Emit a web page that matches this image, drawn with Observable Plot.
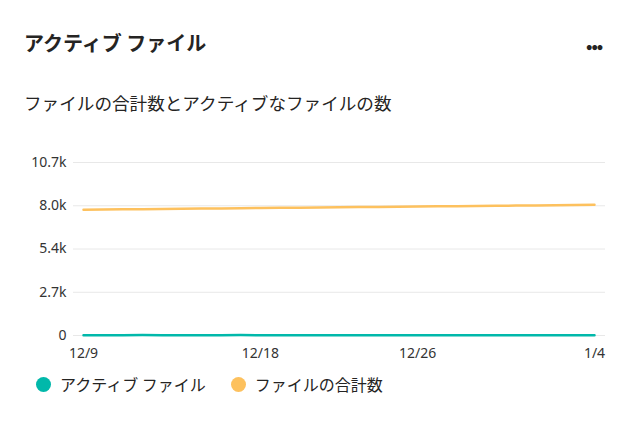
<!DOCTYPE html>
<html>
<head>
<meta charset="utf-8">
<script src="https://cdn.jsdelivr.net/npm/d3@7"></script>
<script src="https://cdn.jsdelivr.net/npm/@observablehq/plot@0.6"></script>
<style>
  html, body { margin: 0; padding: 0; background: #fff; }
  body { width: 643px; height: 436px; position: relative; overflow: hidden;
         font-family: "Noto Sans CJK JP", "Noto Sans", sans-serif; color: #252423; }
  #title { position: absolute; left: 24px; top: 29px; font-size: 20px; font-weight: 700; line-height: 28px; white-space: nowrap; }
  #more { position: absolute; left: 586px; top: 32px; font-size: 17px; font-weight: 700; line-height: 28px; letter-spacing: -1px; }
  #subtitle { position: absolute; left: 24px; top: 89px; font-size: 17.6px; line-height: 28px; white-space: nowrap; color: #252423; }
  #chart { position: absolute; left: 0; top: 145px; }
  #legend { position: absolute; left: 36px; top: 371px; display: flex; align-items: center; font-size: 16px; line-height: 26px; white-space: nowrap; }
  .item { display: flex; align-items: center; margin-right: 25px; }
  .dot { width: 15px; height: 15px; border-radius: 50%; margin-right: 9px; }
</style>
</head>
<body>
<div id="title">アクティブ ファイル</div>
<div id="more">•••</div>
<div id="subtitle">ファイルの合計数とアクティブなファイルの数</div>
<div id="chart"></div>
<div id="legend"></div>
<script>
const dates = ["2019-12-09","2019-12-10","2019-12-11","2019-12-12","2019-12-13","2019-12-14","2019-12-15",
  "2019-12-16","2019-12-17","2019-12-18","2019-12-19","2019-12-20","2019-12-21","2019-12-22",
  "2019-12-23","2019-12-24","2019-12-25","2019-12-26","2019-12-27","2019-12-28","2019-12-29",
  "2019-12-30","2019-12-31","2020-01-01","2020-01-02","2020-01-03","2020-01-04"];
const totalFiles = [7780,7791,7804,7814,7827,7837,7850,7860,7873,7883,7896,7906,7919,7929,
  7942,7952,7965,7975,7988,7998,8011,8021,8034,8044,8057,8067,8085];
const activeFiles = [22,23,22,24,23,21,21,23,24,22,23,22,20,20,22,21,19,21,22,20,19,21,21,19,22,23,23];
const seriesNames = ["アクティブ ファイル", "ファイルの合計数"];
const seriesColors = ["#01B8AA", "#FDC15E"];
const yTicks = [0, 2675, 5350, 8025, 10700];
const yTickLabels = ["0", "2.7k", "5.4k", "8.0k", "10.7k"];
const xTickDates = ["2019-12-09", "2019-12-18", "2019-12-26", "2020-01-04"];
const xTickLabels = ["12/9", "12/18", "12/26", "1/4"];

const parse = d3.utcParse("%Y-%m-%d");
const rows = [];
dates.forEach((d, i) => {
  rows.push({date: parse(d), value: activeFiles[i], series: seriesNames[0]});
  rows.push({date: parse(d), value: totalFiles[i], series: seriesNames[1]});
});
const xTicks = xTickDates.map(parse);
const xLabelMap = new Map(xTicks.map((t, i) => [+t, xTickLabels[i]]));
const yLabelMap = new Map(yTicks.map((t, i) => [t, yTickLabels[i]]));

const chart = Plot.plot({
  width: 643,
  height: 220,
  marginLeft: 73,
  marginRight: 38,
  marginTop: 17,
  marginBottom: 30,
  style: {fontFamily: "'Noto Sans', sans-serif", fontSize: "14px", color: "#333"},
  x: {type: "utc", domain: [parse(dates[0]), parse(dates[dates.length - 1])], insetLeft: 10, insetRight: 11, label: null},
  y: {domain: [0, 10700], label: null},
  color: {domain: seriesNames, range: seriesColors},
  marks: [
    Plot.gridY(yTicks, {stroke: "#e8e8e8", strokeOpacity: 1, strokeWidth: 1}),
    Plot.axisX({ticks: xTicks, tickFormat: d => xLabelMap.get(+d), tickSize: 0, tickPadding: 13, fill: "#333", fontSize: 14}),
    Plot.axisY({ticks: yTicks, tickFormat: d => yLabelMap.get(d), tickSize: 0, tickPadding: 7, fill: "#333", fontSize: 14}),
    Plot.line(rows, {x: "date", y: "value", z: "series", stroke: "series", strokeWidth: 2.5, curve: "linear"})
  ]
});
document.getElementById("chart").appendChild(chart);

const legend = document.getElementById("legend");
seriesNames.forEach((name, i) => {
  const item = document.createElement("div");
  item.className = "item";
  const dot = document.createElement("span");
  dot.className = "dot";
  dot.style.background = seriesColors[i];
  const label = document.createElement("span");
  label.textContent = name;
  item.appendChild(dot);
  item.appendChild(label);
  legend.appendChild(item);
});
</script>
</body>
</html>
